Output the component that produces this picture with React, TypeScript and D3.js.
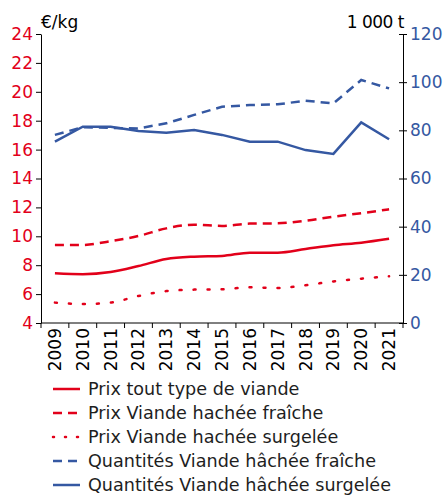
import React, { useEffect, useRef } from 'react';
import * as d3 from 'd3';

const years = ['2009', '2010', '2011', '2012', '2013', '2014', '2015', '2016', '2017', '2018', '2019', '2020', '2021'];
const prixTout = [7.44, 7.38, 7.53, 7.94, 8.43, 8.59, 8.64, 8.87, 8.87, 9.12, 9.38, 9.56, 9.83];
const prixFraiche = [9.4, 9.4, 9.67, 10.02, 10.55, 10.8, 10.72, 10.88, 10.9, 11.08, 11.36, 11.6, 11.87];
const prixSurgelee = [5.41, 5.31, 5.41, 5.87, 6.21, 6.31, 6.33, 6.47, 6.42, 6.61, 6.88, 7.07, 7.23];
const qteFraiche = [78.1, 81.3, 81.0, 80.8, 82.9, 86.4, 89.8, 90.5, 90.8, 92.3, 91.2, 100.9, 97.4];
const qteSurgelee = [75.3, 81.5, 81.5, 79.7, 79.0, 80.1, 78.1, 75.3, 75.3, 71.8, 70.2, 83.3, 76.3];
const leftTicks = [4, 6, 8, 10, 12, 14, 16, 18, 20, 22, 24];
const rightTicks = [0, 20, 40, 60, 80, 100, 120];

const RED = '#e2001a';
const BLUE = '#3558a2';
const FONT = '"DejaVu Sans", sans-serif';

const App = () => {
  const svgRef = useRef<SVGSVGElement>(null);

  useEffect(() => {
    const svg = d3.select(svgRef.current);
    svg.selectAll('*').remove();

    const left = 41;
    const right = 403;
    const top = 34;
    const bottom = 323;

    const x = d3.scaleBand().domain(years).range([left, right]);
    const yL = d3.scaleLinear().domain([4, 24]).range([bottom, top]);
    const yR = d3.scaleLinear().domain([0, 120]).range([bottom, top]);
    const cx = (i: number) => (x(years[i]) as number) + x.bandwidth() / 2;

    // left axis
    const gL = svg.append('g').attr('transform', `translate(${left},0)`)
      .call(d3.axisLeft(yL).tickValues(leftTicks).tickSize(5).tickPadding(3).tickSizeOuter(0));
    gL.selectAll('text').attr('fill', RED).style('font-size', '17px').style('font-family', FONT);

    // right axis
    const gR = svg.append('g').attr('transform', `translate(${right},0)`)
      .call(d3.axisRight(yR).tickValues(rightTicks).tickSize(4).tickPadding(3).tickSizeOuter(0));
    gR.selectAll('.tick line').attr('x1', -4);
    gR.selectAll('text').attr('fill', BLUE).style('font-size', '17px').style('font-family', FONT);

    // bottom axis
    const gB = svg.append('g').attr('transform', `translate(0,${bottom})`);
    gB.append('line').attr('x1', left).attr('x2', right).attr('stroke', '#000');
    gB.selectAll('line.tk')
      .data(d3.range(years.length + 1))
      .enter().append('line')
      .attr('class', 'tk')
      .attr('x1', (i) => left + i * x.step())
      .attr('x2', (i) => left + i * x.step())
      .attr('y1', 0).attr('y2', 5)
      .attr('stroke', '#000');
    gB.selectAll('text')
      .data(years)
      .enter().append('text')
      .attr('transform', (d) => `translate(${(x(d) as number) + x.bandwidth() / 2 + 6},5) rotate(-90)`)
      .attr('text-anchor', 'end')
      .style('font-size', '17px')
      .style('font-family', FONT)
      .attr('fill', '#000')
      .text((d) => d);

    svg.selectAll('.domain').attr('stroke', '#000');
    svg.selectAll('.tick line').attr('stroke', '#000');

    // axis titles
    svg.append('text').attr('x', 41).attr('y', 28).text('€/kg')
      .style('font-size', '17px').style('font-family', FONT);
    svg.append('text').attr('x', 404).attr('y', 28).attr('text-anchor', 'end').text('1 000 t')
      .style('font-size', '17px').style('font-family', FONT).style('letter-spacing', '-0.5px');

    const series = [
      { label: 'Prix tout type de viande', data: prixTout, y: yL, color: RED, dash: null, curve: d3.curveMonotoneX },
      { label: 'Prix Viande hachée fraîche', data: prixFraiche, y: yL, color: RED, dash: '9,6', curve: d3.curveMonotoneX },
      { label: 'Prix Viande hachée surgelée', data: prixSurgelee, y: yL, color: RED, dash: '2,12', curve: d3.curveMonotoneX },
      { label: 'Quantités Viande hâchée fraîche', data: qteFraiche, y: yR, color: BLUE, dash: '9,6', curve: d3.curveLinear },
      { label: 'Quantités Viande hâchée surgelée', data: qteSurgelee, y: yR, color: BLUE, dash: null, curve: d3.curveLinear },
    ];

    series.forEach((s) => {
      const line = d3.line<number>()
        .x((_, i) => cx(i))
        .y((d) => s.y(d))
        .curve(s.curve);
      svg.append('path')
        .datum(s.data)
        .attr('d', line)
        .attr('fill', 'none')
        .attr('stroke', s.color)
        .attr('stroke-width', 2.5)
        .attr('stroke-linecap', s.dash === '2,12' ? 'round' : 'butt')
        .attr('stroke-dasharray', s.dash);
    });

    // legend
    const lg = svg.append('g');
    series.forEach((s, i) => {
      const yy = 389 + i * 24;
      lg.append('line')
        .attr('x1', 53).attr('x2', 80).attr('y1', yy).attr('y2', yy)
        .attr('stroke', s.color).attr('stroke-width', 2.5)
        .attr('stroke-linecap', s.dash === '2,12' ? 'round' : 'butt')
        .attr('stroke-dasharray', s.dash === '2,12' ? '1,11' : s.dash);
      lg.append('text')
        .attr('x', 88).attr('y', yy + 6)
        .style('font-size', '17.6px').style('font-family', FONT)
        .attr('fill', '#1e1e1e')
        .text(s.label);
    });
  }, []);

  return (
    <div style={{ position: 'absolute', left: 0, top: 0 }}>
      <svg ref={svgRef} width={443} height={495} />
    </div>
  );
};

export default App;
